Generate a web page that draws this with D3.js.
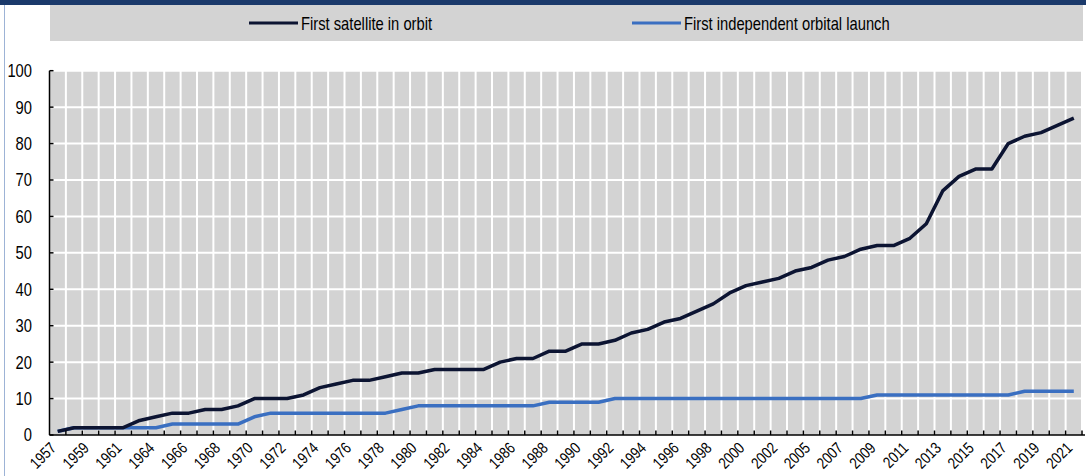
<!DOCTYPE html>
<html>
<head>
<meta charset="utf-8">
<script src="https://cdn.jsdelivr.net/npm/d3@7"></script>
<style>
  html, body { margin: 0; padding: 0; background: #ffffff; }
  svg { display: block; }
  text { font-family: 'Liberation Sans', Arial, Helvetica, sans-serif; fill: #000; }
</style>
</head>
<body>
<svg id="chart" width="1086" height="476"></svg>
<script>
const years = ["1957","1958","1959","1960","1961","1962","1964","1965","1966","1967","1968","1969","1970","1971","1972","1973","1974","1975","1976","1977","1978","1979","1980","1981","1982","1983","1984","1985","1986","1987","1988","1989","1990","1991","1992","1993","1994","1995","1996","1997","1998","1999","2000","2001","2002","2003","2005","2006","2007","2008","2009","2010","2011","2012","2013","2014","2015","2016","2017","2018","2019","2020","2021"];

const firstSatellite = [1,2,2,2,2,4,5,6,6,7,7,8,10,10,10,11,13,14,15,15,16,17,17,18,18,18,18,20,21,21,23,23,25,25,26,28,29,31,32,34,36,39,41,42,43,45,46,48,49,51,52,52,54,58,67,71,73,73,80,82,83,85,87];

const firstLaunch = [1,2,2,2,2,2,2,3,3,3,3,3,5,6,6,6,6,6,6,6,6,7,8,8,8,8,8,8,8,8,9,9,9,9,10,10,10,10,10,10,10,10,10,10,10,10,10,10,10,10,11,11,11,11,11,11,11,11,11,12,12,12,12];

const yTicks = [0,10,20,30,40,50,60,70,80,90,100];

const seriesNames = ["First satellite in orbit", "First independent orbital launch"];
const seriesColors = ["#0c1432", "#3a6fc1"];

const NARROW = 0.82; // emulate a condensed face

const svg = d3.select("#chart");
const W = 1086, H = 476;
const plot = { left: 49.5, right: 1082, top: 70.7, bottom: 435 };

// frame
svg.append("rect").attr("x", 0).attr("y", 0).attr("width", W).attr("height", 5).attr("fill", "#1b3a6b");
svg.append("line").attr("x1", 4.5).attr("x2", 4.5).attr("y1", 5).attr("y2", H).attr("stroke", "#9db3d6").attr("stroke-width", 1);

// legend
svg.append("rect").attr("x", 50).attr("y", 5).attr("width", 1033).attr("height", 36).attr("fill", "#d3d3d3");
const legendX = [249, 632];
seriesNames.forEach((name, i) => {
  const g = svg.append("g").attr("transform", `translate(${legendX[i]},23)`);
  g.append("line").attr("x1", 0).attr("x2", 49).attr("y1", 0).attr("y2", 0)
    .attr("stroke", seriesColors[i]).attr("stroke-width", 3);
  g.append("text").attr("transform", `translate(52,6.5) scale(${NARROW},1)`)
    .attr("font-size", 18).text(name);
});

const x = d3.scaleBand().domain(years).range([plot.left, plot.right]).padding(0);
const y = d3.scaleLinear().domain([0, 100]).range([plot.bottom, plot.top]);

// plot background
svg.append("rect").attr("x", plot.left).attr("y", plot.top)
  .attr("width", plot.right - plot.left).attr("height", plot.bottom - plot.top).attr("fill", "#d3d3d3");

// gridlines
const grid = svg.append("g");
years.forEach((yr) => {
  const xb = x(yr) + x.bandwidth();
  grid.append("line").attr("x1", xb).attr("x2", xb).attr("y1", plot.top).attr("y2", plot.bottom)
    .attr("stroke", "#ffffff").attr("stroke-width", 2);
});
yTicks.forEach(t => {
  if (t === 0) return;
  grid.append("line").attr("x1", plot.left).attr("x2", plot.right).attr("y1", y(t)).attr("y2", y(t))
    .attr("stroke", "#ffffff").attr("stroke-width", 2);
});

// lines
const line = d3.line().x((d, i) => x(years[i]) + x.bandwidth() / 2).y(d => y(d));
[[firstLaunch, 1], [firstSatellite, 0]].forEach(([s, idx]) => {
  svg.append("path").datum(s).attr("d", line).attr("fill", "none")
    .attr("stroke", seriesColors[idx]).attr("stroke-width", 3.5)
    .attr("stroke-linejoin", "round").attr("stroke-linecap", "butt");
});

// y axis
const yAxisG = svg.append("g").attr("transform", `translate(${plot.left},0)`);
yAxisG.append("line").attr("x1", 0).attr("x2", 0).attr("y1", plot.top).attr("y2", plot.bottom)
  .attr("stroke", "#000").attr("stroke-width", 1.5);
yTicks.forEach(t => {
  yAxisG.append("line").attr("x1", 0).attr("x2", 4).attr("y1", y(t)).attr("y2", y(t))
    .attr("stroke", "#000").attr("stroke-width", 1.5);
  yAxisG.append("text").attr("transform", `translate(-17.5,${y(t)}) scale(${NARROW},1)`)
    .attr("dy", "0.36em").attr("text-anchor", "end").attr("font-size", 18).text(t);
});

// x axis
const xAxisG = svg.append("g");
xAxisG.append("line").attr("x1", plot.left).attr("x2", plot.right + 3).attr("y1", plot.bottom).attr("y2", plot.bottom)
  .attr("stroke", "#000").attr("stroke-width", 1.5);
years.forEach((yr, i) => {
  const xb = x(yr) + x.bandwidth();
  xAxisG.append("line").attr("x1", xb).attr("x2", xb).attr("y1", plot.bottom).attr("y2", plot.bottom - 4.5)
    .attr("stroke", "#000").attr("stroke-width", 1.5);
  if (i % 2 === 0) {
    const cx = x(yr) + x.bandwidth() / 2 - 0.5;
    xAxisG.append("text").attr("transform", `translate(${cx},449) rotate(-45) scale(${NARROW},1)`)
      .attr("text-anchor", "end").attr("font-size", 16).text(yr);
  }
});
</script>
</body>
</html>
